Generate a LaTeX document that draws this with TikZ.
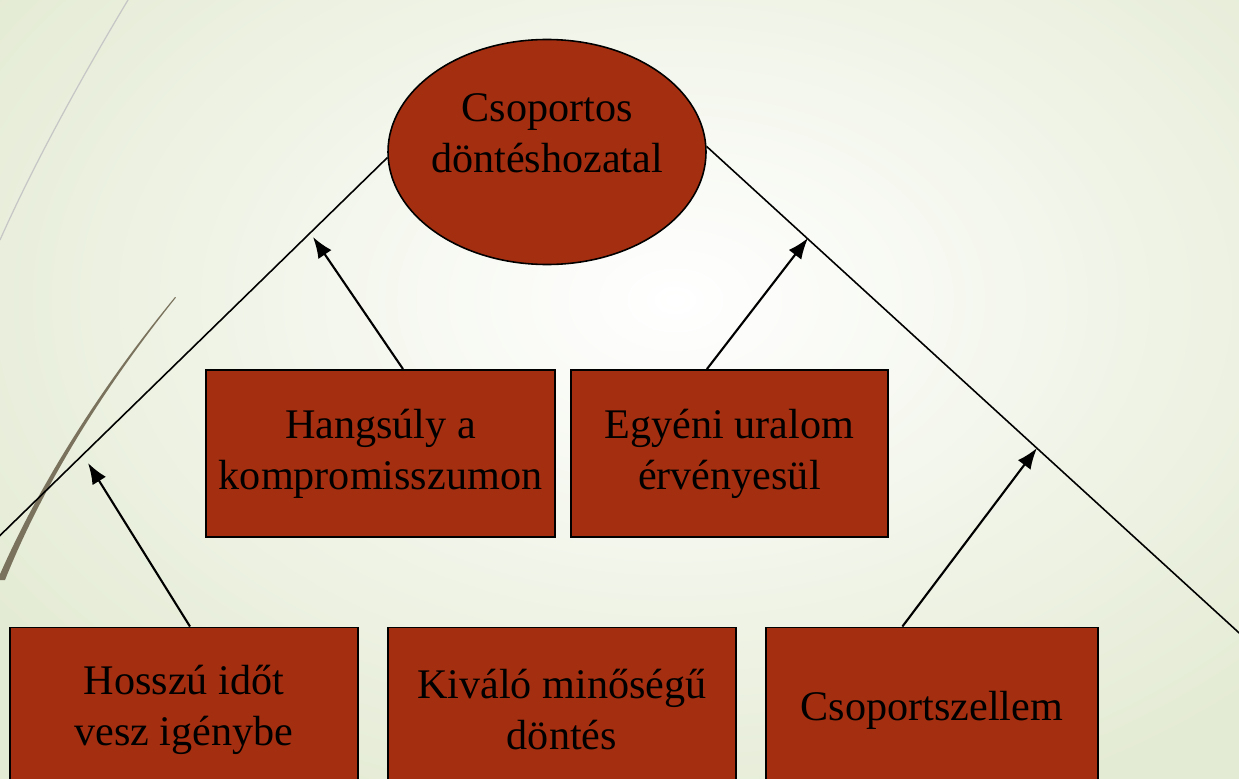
\documentclass[tikz,border=0pt]{standalone}
\usepackage{fontspec}
\setmainfont{Liberation Serif}
\usetikzlibrary{arrows.meta,shapes,positioning,calc}
\usetikzlibrary{shapes.geometric}

\definecolor{rust}{RGB}{164,46,16}
\definecolor{paleback}{RGB}{228,235,212}
\definecolor{stalk}{RGB}{122,114,92}

\tikzset{
  box/.style={rectangle,draw=black,line width=1.1pt,fill=rust,align=center,
    minimum height=3.34cm,inner sep=2pt,font=\fontsize{24}{29}\selectfont},
  pointer/.style={-{Latex[length=12pt,width=9pt]},line width=1.2pt},
  slope/.style={line width=0.9pt}
}

\begin{document}
\begin{tikzpicture}[node distance=0.56cm]
    \useasboundingbox (0,0) rectangle (24.78,-15.56);
    \clip (0,0) rectangle (24.78,-15.56);
    \shade[inner color=white,outer color=paleback] (-3,5) rectangle (30,-17);
    % the two stalks on the left
    \draw[gray!45,line width=0.7pt] (2.56,0) .. controls (1.9,-1.1) and (0.8,-3) .. (0,-4.8);
    \fill[stalk] (3.5,-5.94) .. controls (2.3,-7.4) and (0.9,-9.4) .. (-0.05,-11.6)
        -- (0.1,-11.6) .. controls (0.98,-9.4) and (2.36,-7.4) .. (3.52,-5.95) -- cycle;

    \node[ellipse,draw,line width=0.9pt,fill=rust,minimum width=6.36cm,minimum height=4.5cm,
        inner sep=-20pt,align=center,font=\fontsize{24}{29}\selectfont](top) at (10.94,-3.04)
        {Csoportos\\döntéshozatal\\[-7pt]};
    \coordinate (lend) at (-0.4,-11.1);
    \coordinate (rend) at (25.2,-13.04);
    \draw[slope] (top.182) -- (lend);
    \draw[slope] (top.2.5) -- (rend);

    \node[box,minimum width=6.98cm](hangsuly) at (7.61,-9.07){Hangsúly a\\kompromisszumon};
    \node[box,minimum width=6.34cm,right=0.28cm of hangsuly](egyeni){Egyéni uralom\\érvényesül};
    \node[box,minimum width=6.96cm,minimum height=3.3cm](hosszu) at (3.68,-14.2){Hosszú időt\\vesz igénybe};
    \node[box,minimum width=6.96cm,minimum height=3.3cm,right=of hosszu](kivalo){Kiváló minőségű\\döntés};
    \node[box,minimum width=6.64cm,minimum height=3.3cm,right=of kivalo](szellem){Csoportszellem};

    \coordinate (lt1) at (6.26,-4.74);
    \coordinate (lt2) at (1.76,-9.26);
    \coordinate (rt1) at (16.16,-4.76);
    \coordinate (rt2) at (20.74,-8.96);
    \draw[pointer] ([xshift=0.45cm]hangsuly.north) -- (lt1);
    \draw[pointer] ([xshift=-0.45cm]egyeni.north) -- (rt1);
    \draw[pointer] ([xshift=0.12cm]hosszu.north) -- (lt2);
    \draw[pointer] ([xshift=-0.59cm]szellem.north) -- (rt2);
\end{tikzpicture}
\end{document}
